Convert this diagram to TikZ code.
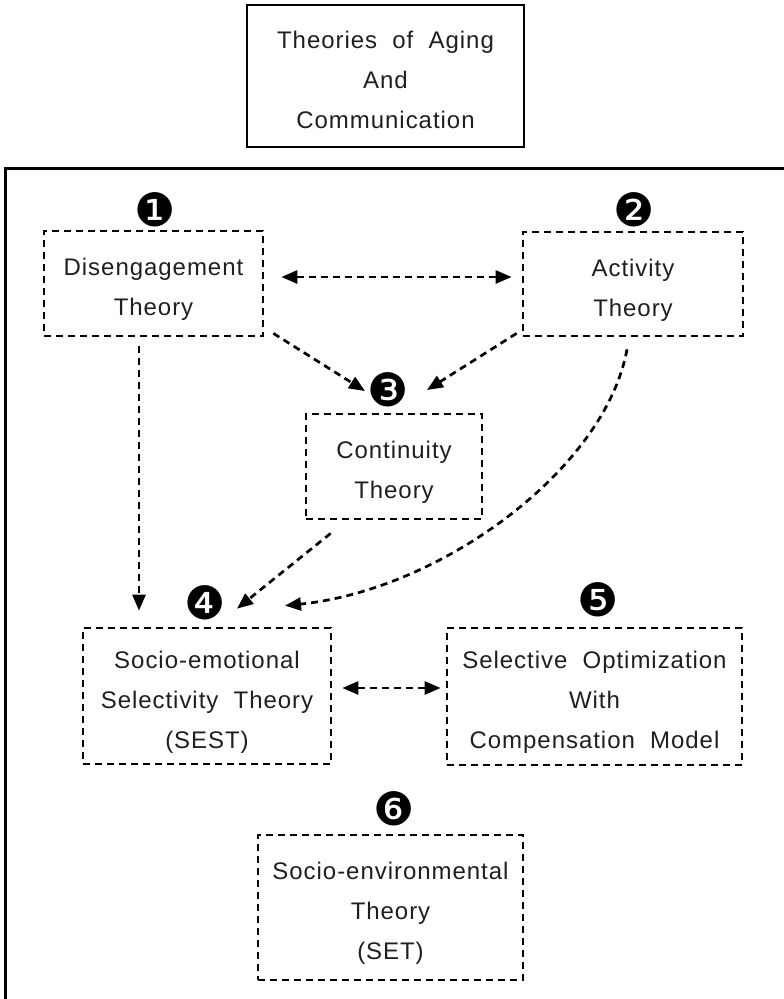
\documentclass[tikz,border=0pt]{standalone}
\usepackage{fontspec}
\setmainfont{Liberation Sans}[LetterSpace=4]
\newfontfamily\numfont{DejaVu Sans}
\usetikzlibrary{arrows.meta,calc}
\newcommand\tstrut{\rule{0pt}{30pt}}
\newcommand\bstrut{\rule[-6pt]{0pt}{6pt}}
\tikzset{
  boxfont/.style={align=center, font=\fontsize{24}{40}\selectfont, text=black!88},
  dbox/.style={draw, line width=2.7pt, dash pattern=on 7pt off 5pt, rectangle, inner sep=0pt, boxfont},
  numlbl/.style={inner sep=0pt, font=\numfont\fontsize{46}{46}\selectfont},
  arr/.style={line width=2.7pt, dash pattern=on 7pt off 5pt, -{Triangle[length=16pt,width=13pt]}},
  darr/.style={line width=2.7pt, dash pattern=on 7pt off 5pt, {Triangle[length=16pt,width=13pt]}-{Triangle[length=16pt,width=13pt]}},
}
\begin{document}
\begin{tikzpicture}[x=1pt,y=-1pt]
\useasboundingbox (0,0) rectangle (784,999);
\clip (0,0) rectangle (784,999);
\fill[white] (0,0) rectangle (784,999);
% top title box
\node[draw, line width=2.2pt, rectangle, inner sep=0pt, minimum width=277pt, minimum height=142pt, boxfont] (top) at (385.5,76)
  {\tstrut Theories\ \ of\ \ Aging\\And\\Communication\bstrut};
% outer frame
\draw[line width=3pt] (5,168) rectangle (820,1030);
% boxes
\node[dbox, minimum width=219pt, minimum height=105pt] (b1) at (153.5,283.5) {\tstrut Disengagement\\Theory\bstrut};
\node[dbox, minimum width=220pt, minimum height=104pt] (b2) at (633,284) {\tstrut Activity\\Theory\bstrut};
\node[dbox, minimum width=176pt, minimum height=105pt] (b3) at (394,466.5) {\tstrut Continuity\\Theory\bstrut};
\node[dbox, minimum width=248pt, minimum height=136pt] (b4) at (207,696) {\tstrut Socio-emotional\\Selectivity\ \ Theory\\(SEST)\bstrut};
\node[dbox, minimum width=295pt, minimum height=137pt] (b5) at (594.5,696.5) {\tstrut Selective\ \ Optimization\\With\\Compensation\ \ Model\bstrut};
\node[dbox, minimum width=265pt, minimum height=145pt] (b6) at (390.5,907.5) {\tstrut Socio-environmental\\Theory\\(SET)\bstrut};
% numbers
\node[numlbl] (n1) at (155,210) {❶};
\node[numlbl] (n2) at (634,210) {❷};
\node[numlbl] (n3) at (388,390) {❸};
\node[numlbl] (n4) at (205,603) {❹};
\node[numlbl] (n5) at (598,600) {❺};
\node[numlbl] (n6) at (394,809) {❻};
% connectors
\draw[darr] ($(b1.east)+(17,-6.5)$) -- ($(b2.west)+(-10,-7)$);
\draw[arr] ($(b1.south east)+(9,-4)$) -- ($(n3)+(-23,1)$);
\draw[arr] ($(b2.south west)+(-5,-4)$) -- ($(n3)+(39,0)$);
\draw[arr] ($(b1.south)+(-14.5,9)$) -- ($(b4.north)+(-68,-16)$);
\draw[arr] ($(b3.south west)+(26,13)$) -- ($(b4.north)+(30,-18)$);
\draw[arr] ($(b2.south)+(-6,12)$) .. controls (605,470) and (440,590) .. ($(b4.north)+(78,-21)$);
\draw[darr] ($(b4.east)+(10,-8)$) -- ($(b5.west)+(-5,-8.5)$);
\end{tikzpicture}
\end{document}
